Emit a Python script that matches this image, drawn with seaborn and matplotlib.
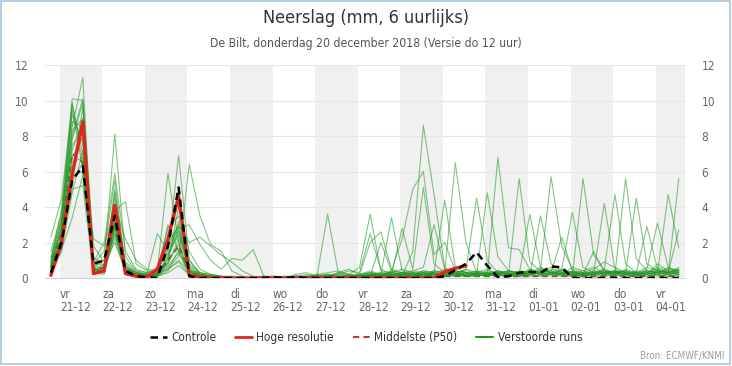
import matplotlib
matplotlib.use('Agg')
import matplotlib.pyplot as plt
from matplotlib.lines import Line2D
from matplotlib.patches import Rectangle
import pandas as pd
import seaborn as sns

# 6-hourly values, first step 20-12 19:00 (local time)
start = '2018-12-20 19:00'
n_steps = 60

day_names = ['vr', 'za', 'zo', 'ma', 'di', 'wo', 'do', 'vr', 'za', 'zo', 'ma', 'di', 'wo', 'do', 'vr']
day_dates = ['21-12', '22-12', '23-12', '24-12', '25-12', '26-12', '27-12', '28-12',
             '29-12', '30-12', '31-12', '01-01', '02-01', '03-01', '04-01']

controle = [0.3, 2.0, 5.5, 6.3, 0.8, 1.0, 3.5, 0.4, 0.1, 0.05,
            0.0, 1.8, 5.1, 0.1, 0.0, 0.0, 0.0, 0.0, 0.0, 0.0,
            0.0, 0.05, 0.0, 0.05, 0.0, 0.0, 0.0, 0.0, 0.0, 0.0,
            0.0, 0.0, 0.0, 0.0, 0.0, 0.0, 0.0, 0.1, 0.45, 0.8,
            1.45, 0.7, 0.05, 0.1, 0.3, 0.35, 0.3, 0.65, 0.6, 0.0,
            0.0, 0.0, 0.0, 0.0, 0.0, 0.0, 0.0, 0.0, 0.0, 0.0]

hoge_resolutie = [0.15, 2.0, 5.8, 8.8, 0.25, 0.4, 4.1, 0.25, 0.1, 0.05,
                  0.5, 2.2, 4.6, 0.15, 0.05, 0.0, 0.0, 0.0, 0.0, 0.0,
                  0.0, 0.0, 0.0, 0.0, 0.0, 0.0, 0.0, 0.0, 0.0, 0.0,
                  0.0, 0.0, 0.0, 0.0, 0.0, 0.0, 0.0, 0.35, 0.55, 0.68]

middelste = [0.6, 2.5, 7.0, 6.5, 0.5, 0.6, 3.0, 0.5, 0.2, 0.1,
             0.2, 1.0, 1.8, 0.4, 0.1, 0.1, 0.0, 0.0, 0.0, 0.0,
             0.0, 0.0, 0.0, 0.0, 0.0, 0.05, 0.05, 0.05, 0.05, 0.05,
             0.1, 0.1, 0.1, 0.1, 0.1, 0.1, 0.1, 0.1, 0.1, 0.1,
             0.1, 0.1, 0.1, 0.1, 0.1, 0.1, 0.1, 0.1, 0.1, 0.1,
             0.1, 0.1, 0.1, 0.1, 0.1, 0.1, 0.1, 0.1, 0.1, 0.1]

verstoorde = [
    [0.6, 2.8, 8.5, 11.3, 0.4, 0.5, 3.0, 0.4, 0.2, 0.1,
     0.2, 1.2, 2.6, 0.4, 0.1, 0.0, 0.0, 0.0, 0.0, 0.0,
     0.0, 0.1, 0.0, 0.0, 0.0, 0.1, 0.2, 0.1, 0.0, 0.0,
     0.1, 0.3, 0.2, 0.1, 1.5, 8.6, 4.7, 0.6, 0.2, 0.1,
     0.1, 0.2, 0.4, 0.2, 0.1, 0.3, 0.6, 0.3, 0.1, 0.2,
     0.1, 0.2, 0.4, 0.3, 0.2, 0.1, 0.3, 0.2, 0.4, 0.3],
    [1.0, 3.9, 10.1, 10.0, 1.8, 0.9, 8.1, 1.2, 0.4, 0.3,
     0.5, 2.8, 3.5, 1.0, 0.3, 0.1, 0.1, 0.0, 0.0, 0.0,
     0.1, 0.0, 0.0, 0.2, 0.3, 0.1, 0.0, 0.0, 0.1, 0.2,
     2.0, 2.6, 0.5, 0.3, 0.2, 0.4, 0.3, 0.1, 0.2, 0.5,
     4.5, 1.0, 0.3, 0.2, 0.1, 0.4, 0.2, 0.5, 0.3, 0.2,
     0.3, 0.5, 0.9, 0.6, 0.3, 0.2, 0.1, 0.2, 0.3, 0.5],
    [2.3, 4.5, 9.8, 7.0, 0.8, 1.5, 5.5, 0.6, 0.3, 0.2,
     0.1, 0.6, 1.2, 6.4, 3.5, 1.9, 1.5, 0.4, 0.1, 0.0,
     0.0, 0.0, 0.1, 0.1, 0.0, 0.2, 0.3, 0.4, 0.2, 0.1,
     0.3, 0.1, 0.4, 2.2, 5.0, 6.0, 1.3, 2.0, 0.4, 0.3,
     0.2, 0.1, 0.3, 0.4, 0.2, 0.1, 3.5, 0.8, 0.4, 0.2,
     0.1, 0.3, 0.2, 0.4, 0.2, 0.1, 0.3, 0.6, 0.4, 0.2],
    [0.4, 1.8, 6.0, 9.6, 0.5, 0.3, 4.5, 0.3, 0.2, 0.1,
     0.4, 5.9, 2.0, 0.3, 0.2, 0.1, 0.0, 0.0, 0.0, 0.0,
     0.1, 0.1, 0.0, 0.0, 0.1, 0.2, 0.1, 0.3, 0.5, 0.2,
     0.1, 0.2, 0.3, 0.5, 0.3, 0.2, 0.4, 0.3, 6.5, 2.0,
     0.3, 0.2, 0.2, 0.1, 0.2, 0.4, 0.2, 0.3, 0.5, 3.7,
     0.6, 0.3, 0.2, 0.1, 0.3, 0.2, 0.4, 0.3, 0.2, 0.1],
    [0.8, 3.0, 7.5, 8.2, 0.3, 0.6, 2.5, 0.8, 0.3, 0.2,
     2.5, 1.5, 6.9, 1.0, 0.2, 0.1, 0.0, 0.0, 0.0, 0.0,
     0.0, 0.0, 0.1, 0.0, 0.0, 0.1, 3.6, 0.3, 0.1, 0.0,
     0.2, 0.1, 0.2, 0.3, 0.4, 0.3, 0.2, 0.5, 0.3, 0.1,
     0.2, 4.8, 1.2, 0.4, 0.3, 0.2, 0.3, 0.4, 0.2, 0.1,
     0.3, 0.2, 0.5, 4.7, 0.8, 0.3, 0.2, 0.4, 0.3, 0.2],
    [0.5, 2.2, 5.0, 5.2, 0.2, 0.4, 2.2, 0.3, 0.1, 0.1,
     0.2, 0.8, 2.2, 0.6, 0.2, 0.1, 0.0, 0.0, 0.0, 0.0,
     0.0, 0.0, 0.0, 0.1, 0.2, 0.1, 0.0, 0.1, 0.2, 0.6,
     3.6, 0.4, 0.3, 0.2, 0.1, 0.3, 0.2, 0.1, 0.3, 0.2,
     0.4, 0.2, 6.8, 1.7, 1.6, 0.5, 0.3, 0.2, 0.4, 0.3,
     0.2, 0.4, 0.3, 0.2, 0.5, 0.3, 0.2, 0.8, 0.4, 0.3],
    [1.2, 3.4, 9.5, 6.1, 0.6, 1.0, 3.8, 4.3, 0.8, 0.4,
     0.3, 0.5, 1.0, 0.4, 0.3, 0.2, 0.1, 0.0, 0.0, 0.0,
     0.0, 0.0, 0.0, 0.0, 0.1, 0.0, 0.2, 0.1, 0.1, 0.2,
     0.4, 0.2, 3.4, 0.4, 0.2, 0.1, 0.3, 4.4, 0.6, 0.3,
     0.2, 0.1, 0.3, 0.2, 5.6, 0.9, 0.4, 0.3, 0.2, 0.4,
     0.2, 0.1, 0.3, 0.4, 0.2, 0.3, 2.9, 0.5, 0.3, 0.2],
    [0.3, 1.6, 3.4, 5.8, 0.9, 2.0, 5.9, 1.5, 0.5, 0.3,
     0.2, 3.0, 1.5, 0.2, 0.1, 0.0, 0.0, 0.0, 0.0, 0.0,
     0.0, 0.0, 0.0, 0.0, 0.0, 0.0, 0.1, 0.3, 0.2, 0.1,
     0.2, 0.1, 0.1, 0.2, 0.4, 0.6, 3.0, 0.5, 0.3, 0.4,
     0.3, 0.5, 0.2, 0.1, 0.2, 3.6, 0.6, 0.3, 0.2, 0.1,
     5.6, 1.3, 0.4, 0.3, 0.2, 0.4, 0.3, 0.2, 0.6, 0.4],
    [0.7, 2.5, 7.8, 9.9, 1.2, 0.7, 3.2, 0.5, 0.2, 0.1,
     0.3, 1.8, 3.0, 2.0, 2.3, 1.8, 1.3, 0.9, 0.4, 0.1,
     0.0, 0.0, 0.0, 0.0, 0.0, 0.1, 0.1, 0.0, 0.1, 0.2,
     0.3, 0.2, 0.1, 0.3, 0.2, 0.1, 0.3, 0.2, 0.4, 0.3,
     0.2, 0.4, 0.3, 0.2, 0.1, 0.3, 0.4, 5.7, 1.8, 0.5,
     0.3, 0.2, 0.1, 0.3, 0.4, 0.2, 0.5, 3.1, 0.6, 0.3],
    [0.2, 1.5, 4.8, 7.2, 0.3, 0.3, 2.8, 0.2, 0.1, 0.1,
     0.1, 0.4, 1.6, 0.3, 0.1, 0.0, 0.0, 0.0, 0.0, 0.0,
     0.0, 0.0, 0.0, 0.0, 0.0, 0.0, 0.0, 0.1, 0.0, 0.1,
     0.2, 0.1, 0.2, 2.8, 0.5, 5.1, 0.8, 0.3, 0.2, 0.1,
     0.3, 0.2, 0.1, 0.2, 0.3, 0.2, 0.1, 0.3, 2.3, 0.4,
     0.2, 0.3, 4.2, 0.5, 0.3, 0.2, 0.1, 0.3, 4.7, 1.7],
    [0.9, 3.2, 8.8, 8.5, 0.7, 0.5, 3.6, 0.9, 0.4, 0.2,
     0.6, 1.4, 2.4, 0.8, 0.3, 0.2, 0.1, 0.1, 0.0, 0.0,
     0.0, 0.0, 0.0, 0.1, 0.0, 0.0, 0.1, 0.2, 0.1, 0.0,
     0.1, 0.2, 0.3, 0.2, 0.1, 0.2, 0.4, 0.3, 0.2, 0.5,
     0.3, 0.2, 0.4, 0.3, 0.2, 0.4, 0.3, 0.2, 0.4, 0.3,
     0.4, 0.6, 0.3, 0.2, 5.6, 1.1, 0.4, 0.3, 0.2, 5.6],
    [0.5, 2.0, 6.5, 6.8, 0.4, 0.8, 2.0, 0.4, 0.2, 0.1,
     0.1, 1.1, 3.2, 0.5, 0.1, 0.1, 0.0, 0.0, 0.0, 0.0,
     0.0, 0.0, 0.0, 0.0, 0.1, 0.1, 0.0, 0.0, 0.0, 0.1,
     0.2, 0.3, 0.2, 0.1, 0.2, 0.3, 0.2, 0.1, 0.3, 0.2,
     0.1, 0.2, 0.3, 0.2, 0.4, 0.3, 0.2, 0.1, 0.3, 0.2,
     0.1, 0.3, 0.2, 0.4, 0.3, 4.5, 0.8, 0.4, 0.3, 2.7],
    [1.5, 3.6, 9.2, 7.6, 0.5, 0.4, 5.0, 0.6, 0.3, 0.2,
     0.2, 0.9, 1.9, 0.3, 0.2, 0.1, 0.0, 0.0, 0.0, 0.0,
     0.1, 0.0, 0.0, 0.0, 0.0, 0.1, 0.2, 0.0, 0.1, 0.0,
     0.1, 2.0, 0.4, 0.2, 0.3, 0.2, 0.1, 0.2, 0.1, 0.3,
     0.2, 0.3, 0.2, 0.4, 0.3, 0.2, 0.4, 0.6, 0.3, 0.2,
     0.3, 0.2, 0.4, 0.3, 0.2, 0.1, 0.2, 0.4, 0.3, 0.6],
    [0.6, 2.4, 7.2, 8.9, 0.3, 0.2, 2.6, 0.3, 0.1, 0.0,
     0.3, 2.0, 2.9, 0.5, 0.1, 0.0, 0.0, 0.0, 0.0, 0.0,
     0.0, 0.0, 0.0, 0.0, 0.0, 0.0, 0.0, 0.0, 0.1, 0.0,
     0.1, 0.1, 0.2, 0.1, 0.2, 0.1, 0.2, 0.3, 0.2, 0.1,
     0.2, 0.1, 0.2, 0.3, 0.2, 0.1, 0.2, 0.3, 0.2, 0.1,
     0.2, 0.3, 0.2, 0.1, 0.2, 0.3, 0.2, 0.1, 0.2, 0.3],
    [0.4, 2.1, 5.5, 6.5, 2.2, 1.8, 4.0, 2.2, 1.0, 0.5,
     0.4, 1.6, 2.8, 3.0, 1.9, 1.0, 0.5, 1.1, 1.0, 1.6,
     0.1, 0.0, 0.0, 0.1, 0.1, 0.0, 0.1, 0.2, 0.4, 0.3,
     2.5, 0.5, 0.2, 0.3, 0.2, 0.3, 0.2, 0.1, 0.2, 0.3,
     0.2, 0.3, 0.2, 0.3, 0.2, 0.5, 0.3, 0.2, 0.1, 0.2,
     0.3, 0.2, 0.3, 0.2, 0.4, 0.3, 0.2, 0.3, 0.5, 0.4],
    [0.9, 2.7, 8.0, 10.1, 0.6, 0.3, 3.3, 0.5, 0.2, 0.1,
     0.2, 0.5, 0.9, 0.2, 0.1, 0.0, 0.0, 0.0, 0.0, 0.0,
     0.0, 0.0, 0.0, 0.0, 0.0, 0.1, 0.0, 0.1, 0.0, 0.1,
     0.2, 0.1, 0.3, 0.2, 0.1, 0.2, 0.3, 0.2, 0.1, 0.2,
     0.4, 0.3, 0.2, 0.1, 0.3, 0.4, 0.2, 0.3, 0.2, 0.4,
     0.2, 1.5, 0.4, 0.2, 0.3, 0.2, 0.4, 0.3, 0.2, 0.3],
    [0.3, 1.7, 5.8, 6.0, 0.4, 0.6, 2.4, 0.4, 0.2, 0.1,
     0.1, 0.3, 0.7, 0.2, 0.1, 0.0, 0.0, 0.0, 0.0, 0.0,
     0.0, 0.0, 0.0, 0.0, 0.0, 0.0, 0.0, 0.0, 0.0, 0.0,
     0.1, 0.0, 0.1, 0.2, 0.1, 0.2, 0.1, 0.2, 0.1, 0.2,
     0.1, 0.2, 0.1, 0.2, 0.3, 0.2, 0.1, 0.2, 0.3, 0.2,
     0.1, 0.2, 0.3, 0.2, 0.1, 0.2, 0.3, 0.2, 0.1, 0.2],
    [1.1, 3.3, 8.3, 9.0, 0.8, 0.7, 4.8, 0.7, 0.3, 0.2,
     0.2, 0.9, 4.0, 1.5, 0.5, 0.2, 0.1, 0.0, 0.0, 0.0,
     0.0, 0.0, 0.0, 0.1, 0.0, 0.1, 0.1, 0.0, 0.2, 0.1,
     0.2, 0.1, 0.2, 0.1, 0.3, 0.2, 0.1, 0.4, 0.2, 0.1,
     0.3, 0.2, 0.4, 0.2, 0.1, 0.2, 0.5, 0.3, 0.2, 0.6,
     0.4, 0.2, 0.3, 0.4, 0.2, 0.3, 0.6, 0.4, 0.3, 0.5],
    [0.6, 2.3, 6.8, 7.9, 0.5, 0.5, 3.1, 0.6, 0.3, 0.1,
     0.2, 1.3, 2.7, 0.7, 0.2, 0.1, 0.0, 0.0, 0.0, 0.0,
     0.0, 0.0, 0.0, 0.0, 0.0, 0.0, 0.0, 0.0, 0.0, 0.1,
     0.1, 0.2, 0.1, 0.2, 0.3, 0.1, 0.2, 0.1, 0.2, 0.1,
     0.2, 0.1, 0.3, 0.2, 0.1, 0.2, 0.3, 0.4, 0.2, 0.3,
     0.2, 0.4, 0.3, 0.2, 0.3, 0.2, 0.4, 0.3, 0.2, 0.4],
    [0.8, 2.9, 9.9, 6.4, 0.3, 0.4, 2.9, 0.5, 0.2, 0.1,
     0.2, 0.7, 1.4, 0.4, 0.2, 0.1, 0.0, 0.0, 0.0, 0.0,
     0.0, 0.0, 0.0, 0.0, 0.0, 0.0, 0.1, 0.0, 0.0, 0.2,
     0.3, 0.2, 0.4, 0.3, 0.2, 0.4, 0.3, 0.2, 0.4, 0.3,
     0.2, 0.3, 0.2, 0.4, 0.3, 0.2, 0.3, 0.2, 0.5, 0.3,
     0.2, 0.3, 0.5, 0.3, 0.4, 0.2, 0.3, 0.5, 0.3, 0.4],
]

times = pd.date_range(start, periods=n_steps, freq='6h')
rows = []
for i, run in enumerate(verstoorde):
    for t, v in zip(times, run):
        rows.append((i, t, v))
ens = pd.DataFrame(rows, columns=['run', 'tijd', 'mm'])
ctl = pd.DataFrame({'tijd': times, 'mm': controle})
hres = pd.DataFrame({'tijd': times[:len(hoge_resolutie)], 'mm': hoge_resolutie})
p50 = pd.DataFrame({'tijd': times, 'mm': middelste})

sns.set_style('white')
plt.rcParams['font.family'] = ['DejaVu Sans']
plt.rcParams['font.stretch'] = 'condensed'

fig = plt.figure(figsize=(7.32, 3.66), dpi=100)
ax = fig.add_axes([45 / 732, 88 / 366, 640 / 732, 213 / 366])

# alternating day bands
days = pd.date_range('2018-12-21', periods=len(day_names), freq='D')
for k in range(0, len(days), 2):
    ax.axvspan(days[k], days[k] + pd.Timedelta(days=1), color='#f0f0f0', lw=0, zorder=0)

sns.lineplot(data=p50, x='tijd', y='mm', color='#b5403a', lw=1.4, ls=(0, (3, 2)), ax=ax, zorder=1.5)
sns.lineplot(data=ens, x='tijd', y='mm', units='run', estimator=None, color='#1f961f',
             lw=0.8, alpha=0.55, ax=ax, zorder=2)
sns.lineplot(data=hres, x='tijd', y='mm', color='#e2241f', lw=2.4, ax=ax, zorder=4)
sns.lineplot(data=ctl, x='tijd', y='mm', color='black', lw=1.8, ls=(0, (3, 2)), ax=ax, zorder=5)

ax.set_xlim(pd.Timestamp('2018-12-20 15:40'), pd.Timestamp('2019-01-04 16:30'))
ax.set_ylim(0, 12)
ax.set_yticks(range(0, 13, 2))
ax.set_xticks(days)
ax.set_xticklabels([f'{n}\n{d}' for n, d in zip(day_names, day_dates)], ha='left', ma='left',
                   linespacing=1.05)
ax.set_xlabel('')
ax.set_ylabel('')
ax.yaxis.grid(True, color='#e6e6e6', lw=0.8)
ax.set_axisbelow(True)
for s in ['top', 'right', 'left']:
    ax.spines[s].set_visible(False)
ax.spines['bottom'].set_color('#ccd6eb')
ax.tick_params(axis='x', length=5, color='#ccd6eb', pad=2, labelsize=8.5, labelcolor='#666666')
ax.tick_params(axis='y', length=0, pad=12, labelsize=8.5, labelcolor='#666666')

ax2 = ax.twinx()
ax2.set_ylim(0, 12)
ax2.set_yticks(range(0, 13, 2))
for s in ax2.spines.values():
    s.set_visible(False)
ax2.tick_params(axis='y', length=0, pad=12, labelsize=8.5, labelcolor='#666666')

fig.text(0.5, 0.952, 'Neerslag (mm, 6 uurlijks)', ha='center', va='center', fontsize=13, color='#333333')
fig.text(0.5, 0.881, 'De Bilt, donderdag 20 december 2018 (Versie do 12 uur)', ha='center', va='center',
         fontsize=8.7, color='#555555')
fig.text(0.99, 0.027, 'Bron: ECMWF/KNMI', ha='right', va='center', fontsize=7, color='#999999')

handles = [
    Line2D([], [], color='black', lw=1.8, ls=(0, (3, 2))),
    Line2D([], [], color='#e2241f', lw=2),
    Line2D([], [], color='#b5403a', lw=1.5, ls=(0, (3, 2))),
    Line2D([], [], color='#1f961f', lw=1.5),
]
labels = ['Controle', 'Hoge resolutie', 'Middelste (P50)', 'Verstoorde runs']
fig.legend(handles, labels, loc='center', bbox_to_anchor=(0.5, 0.077), ncol=4, frameon=False,
           fontsize=8.5, handlelength=1.4, handletextpad=0.4, columnspacing=1.6, labelcolor='#333333')

fig.patches.append(Rectangle((0.5 / 732, 2.5 / 366), 729.5 / 732, 363 / 366, transform=fig.transFigure,
                             fill=False, edgecolor='#a9c4dd', lw=1.2))

fig.savefig('out.png', dpi=100)
